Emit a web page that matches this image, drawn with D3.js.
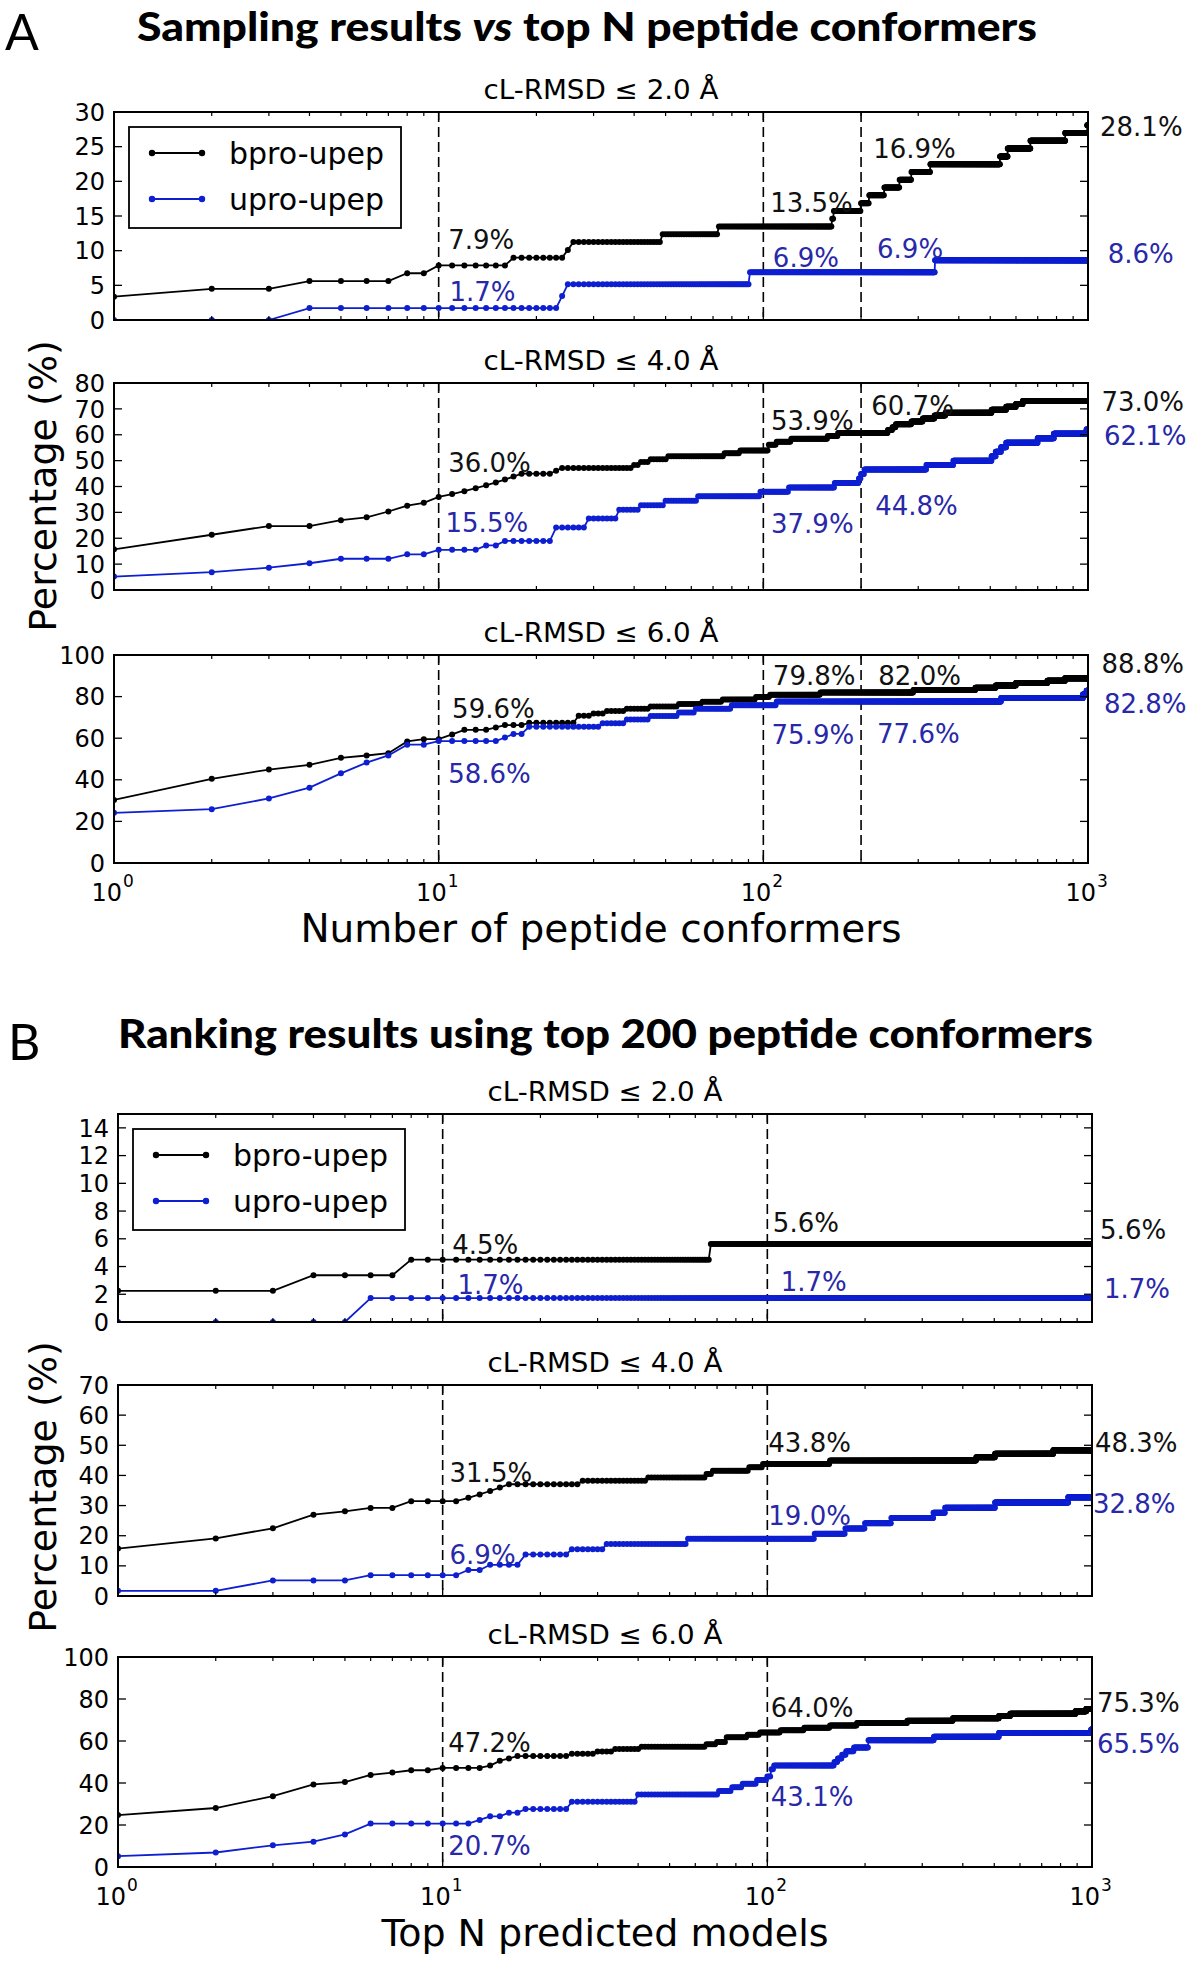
<!DOCTYPE html>
<html><head><meta charset="utf-8">
<script src="https://cdn.jsdelivr.net/npm/d3@7"></script>
<style>body{margin:0;background:#fff}svg{display:block}</style>
</head><body>
<svg id="c" width="1200" height="1962"></svg>
<script>
// ---------------- DATA ----------------
const N_BPRO = 89, N_UPRO = 58;           // number of complexes per set
const seriesNames = ["bpro-upep", "upro-upep"];
const xTickValues = [1, 10, 100, 1000];
const xTickBase = "10";
const xTickExp = ["0", "1", "2", "3"];
const subTitles = ["cL-RMSD ≤ 2.0 Å", "cL-RMSD ≤ 4.0 Å", "cL-RMSD ≤ 6.0 Å"];
const titleA = ["Sampling results ", "vs", " top N peptide conformers"];
const titleB = ["Ranking results using top 200 peptide conformers"];
const xLabelA = "Number of peptide conformers";
const xLabelB = "Top N predicted models";
const yLabel = "Percentage (%)";
const dashesA = [10, 100, 200];
const dashesB = [10, 100];
const yMaxA = [30, 80, 100], yStepA = [5, 10, 20];
const yMaxB = [15, 70, 100], yStepB = [2, 10, 20];

// step data: [N from which the count holds, number of successful complexes]
const A1_bpro = [[1,3],[2,4],[4,5],[8,6],[10,7],[17,8],[25,9],[26,10],[49,11],[73,12],[163,13],[165,14],[200,15],[212,16],[236,17],[263,18],[286,19],[327,20],[536,21],[566,22],[665,23],[851,24],[995,25]];
const A1_upro = [[1,0],[4,1],[24,2],[25,3],[91,4],[338,5]];
const A2_bpro = [[1,14],[2,19],[3,22],[5,24],[6,25],[7,27],[8,29],[9,30],[10,32],[11,33],[12,34],[13,35],[14,36],[15,37],[16,38],[17,39],[18,40],[23,41],[24,42],[40,43],[42,44],[45,45],[51,46],[76,47],[85,48],[104,50],[110,51],[122,52],[158,53],[170,54],[242,55],[250,56],[256,57],[286,58],[310,59],[337,60],[364,61],[505,62],[560,63],[600,64],[630,65]];
const A2_upro = [[1,3],[2,4],[3,5],[4,6],[5,7],[8,8],[10,9],[14,10],[16,11],[23,14],[29,16],[36,18],[42,19],[50,20],[63,21],[98,22],[120,23],[166,24],[197,25],[200,26],[205,27],[318,28],[385,29],[505,30],[520,31],[540,32],[560,33],[700,34],[785,35],[990,36]];
const A3_bpro = [[1,27],[2,36],[3,40],[4,42],[5,45],[6,46],[7,47],[8,52],[9,53],[11,55],[12,57],[15,58],[16,59],[19,60],[27,63],[30,64],[33,65],[38,66],[45,67],[55,68],[65,69],[75,70],[95,71],[105,72],[150,73],[290,74],[450,75],[520,76],[600,77],[750,78],[850,79]];
const A3_upro = [[1,14],[2,15],[3,18],[4,21],[5,25],[6,28],[7,30],[8,33],[10,34],[16,35],[17,36],[19,38],[32,39],[38,40],[45,41],[55,42],[62,43],[80,44],[110,45],[540,46],[965,47],[990,48]];
const B1_bpro = [[1,2],[4,3],[8,4],[67,5]];
const B1_upro = [[1,0],[6,1]];
const B2_bpro = [[1,14],[2,17],[3,20],[4,24],[5,25],[6,26],[8,28],[12,29],[13,30],[14,31],[15,32],[16,33],[27,34],[43,35],[65,36],[68,37],[88,38],[97,39],[156,40],[440,41],[503,42],[760,43]];
const B2_upro = [[1,1],[3,3],[6,4],[12,5],[14,6],[18,8],[25,9],[32,10],[57,11],[140,12],[174,13],[200,14],[241,15],[325,16],[353,17],[503,18],[845,19]];
const B3_bpro = [[1,22],[2,25],[3,30],[4,35],[5,36],[6,39],[7,40],[8,41],[10,42],[14,43],[15,45],[16,46],[17,47],[25,48],[30,49],[34,50],[41,51],[65,52],[70,53],[75,55],[87,56],[95,57],[110,58],[130,59],[156,60],[189,61],[270,62],[373,63],[517,64],[560,65],[890,66],[960,67]];
const B3_upro = [[1,3],[2,4],[3,6],[4,7],[5,9],[6,12],[13,13],[14,14],[16,15],[18,16],[25,18],[40,20],[71,21],[78,22],[84,23],[93,24],[100,25],[103,27],[105,28],[161,29],[165,30],[170,31],[175,32],[185,33],[205,35],[326,36],[517,37],[995,38]];

// annotations: [text, N (x, data units), value (baseline, data units), series index]
const A1_labels = [["7.9%",10.7,10.3,0],["1.7%",10.8,2.7,1],["13.5%",105,15.6,0],["6.9%",107,7.7,1],["16.9%",218,23.3,0],["6.9%",224,8.9,1],["28.1%",1089,26.6,0],["8.6%",1150,8.2,1]];
const A2_labels = [["36.0%",10.7,45.7,0],["15.5%",10.5,22.5,1],["53.9%",105.6,62.0,0],["37.9%",105.6,22.1,1],["60.7%",215,67.6,0],["44.8%",221,28.9,1],["73.0%",1100,69.1,0],["62.1%",1120,56.2,1]];
const A3_labels = [["59.6%",11.0,69.8,0],["58.6%",10.7,38.6,1],["79.8%",107,85.5,0],["75.9%",106,57.0,1],["82.0%",226,85.5,0],["77.6%",224,57.5,1],["88.8%",1100,91.4,0],["82.8%",1120,71.9,1]];
const B1_labels = [["4.5%",10.7,4.87,0],["1.7%",11.1,2.05,1],["5.6%",104,6.5,0],["1.7%",110,2.22,1],["5.6%",1059,5.95,0],["1.7%",1089,1.74,1]];
const B2_labels = [["31.5%",10.5,37.9,0],["6.9%",10.5,10.7,1],["43.8%",100.7,47.9,0],["19.0%",100.7,23.5,1],["48.3%",1021,47.9,0],["32.8%",1007,27.6,1]];
const B3_labels = [["47.2%",10.4,54.9,0],["20.7%",10.4,5.6,1],["64.0%",102.5,71.5,0],["43.1%",102.5,29.0,1],["75.3%",1036,73.9,0],["65.5%",1036,54.4,1]];

// ---------------- DRAWING ----------------
const svg = d3.select("#c");
const FONT = "'DejaVu Sans', sans-serif";
const LINE_COL = ["#000000", "#0d1fd0"];
const TEXT_COL = ["#111111", "#2828a8"];

function expand(steps, total) {
  const pts = [];
  let i = 0;
  for (let n = 1; n <= 1000; n++) {
    while (i + 1 < steps.length && steps[i + 1][0] <= n) i++;
    pts.push([n, steps[i][1] / total * 100]);
  }
  return pts;
}

let clipCount = 0;
function drawPanel(p) {
  const x = d3.scaleLog().domain([1, 1000]).range([p.left, p.right]);
  const y = d3.scaleLinear().domain([0, p.yMax]).range([p.bottom, p.top]);
  const g = svg.append("g");
  const cid = "clip" + (clipCount++);
  svg.append("clipPath").attr("id", cid).append("rect")
    .attr("x", p.left).attr("y", p.top).attr("width", p.right - p.left).attr("height", p.bottom - p.top);

  // subtitle
  g.append("text").attr("x", (p.left + p.right) / 2).attr("y", p.top - 13)
    .attr("text-anchor", "middle").attr("font-family", FONT).attr("font-size", 26)
    .attr("textLength", 235).attr("lengthAdjust", "spacingAndGlyphs")
    .text(p.sub);

  // dashed verticals
  g.selectAll(".dash").data(p.dashes).enter().append("line")
    .attr("x1", d => x(d)).attr("x2", d => x(d)).attr("y1", p.top).attr("y2", p.bottom)
    .attr("stroke", "#000").attr("stroke-width", 1.6).attr("stroke-dasharray", "10,5");

  // series
  const line = d3.line().x(d => x(d[0])).y(d => y(d[1]));
  const sg = g.append("g").attr("clip-path", `url(#${cid})`);
  [[p.bpro, N_BPRO], [p.upro, N_UPRO]].forEach(([steps, tot], si) => {
    const pts = expand(steps, tot);
    sg.append("path").attr("d", line(pts)).attr("fill", "none")
      .attr("stroke", LINE_COL[si]).attr("stroke-width", 1.8);
    sg.append("g").selectAll("circle").data(pts).enter().append("circle")
      .attr("cx", d => x(d[0])).attr("cy", d => y(d[1])).attr("r", 3)
      .attr("fill", LINE_COL[si]);
  });

  // frame
  g.append("rect").attr("x", p.left).attr("y", p.top)
    .attr("width", p.right - p.left).attr("height", p.bottom - p.top)
    .attr("fill", "none").attr("stroke", "#000").attr("stroke-width", 2);

  // y ticks
  const yt = d3.range(0, p.yMax + 0.001, p.yStep);
  yt.forEach(v => {
    g.append("line").attr("x1", p.left).attr("x2", p.left + 8).attr("y1", y(v)).attr("y2", y(v)).attr("stroke", "#000").attr("stroke-width", 1.3);
    g.append("line").attr("x1", p.right - 8).attr("x2", p.right).attr("y1", y(v)).attr("y2", y(v)).attr("stroke", "#000").attr("stroke-width", 1.3);
    g.append("text").attr("x", p.left - 9).attr("y", y(v)).attr("dy", "0.36em")
      .attr("text-anchor", "end").attr("font-family", FONT).attr("font-size", 24).text(v);
  });

  // x ticks (major + minor), top and bottom, inward
  const minor = [];
  [1, 10, 100].forEach(dec => { for (let k = 2; k <= 9; k++) minor.push(dec * k); });
  minor.forEach(v => {
    g.append("line").attr("x1", x(v)).attr("x2", x(v)).attr("y1", p.bottom).attr("y2", p.bottom - 4).attr("stroke", "#000").attr("stroke-width", 1.2);
    g.append("line").attr("x1", x(v)).attr("x2", x(v)).attr("y1", p.top).attr("y2", p.top + 4).attr("stroke", "#000").attr("stroke-width", 1.2);
  });
  [10, 100].forEach(v => {
    g.append("line").attr("x1", x(v)).attr("x2", x(v)).attr("y1", p.bottom).attr("y2", p.bottom - 8).attr("stroke", "#000").attr("stroke-width", 1.3);
    g.append("line").attr("x1", x(v)).attr("x2", x(v)).attr("y1", p.top).attr("y2", p.top + 8).attr("stroke", "#000").attr("stroke-width", 1.3);
  });

  if (p.showX) {
    xTickValues.forEach((v, i) => {
      g.append("text").attr("x", x(v) + 8).attr("y", p.bottom + 38).attr("text-anchor", "end")
        .attr("font-family", FONT).attr("font-size", 24).text(xTickBase);
      g.append("text").attr("x", x(v) + 9).attr("y", p.bottom + 24).attr("text-anchor", "start")
        .attr("font-family", FONT).attr("font-size", 17).text(xTickExp[i]);
    });
  }

  // annotations
  p.labels.forEach(([t, n, v, si]) => {
    g.append("text").attr("x", x(n)).attr("y", y(v)).attr("font-family", FONT)
      .attr("font-size", 26).attr("fill", TEXT_COL[si]).text(t);
  });

  // legend
  if (p.legend) {
    const lx = p.left + 15, ly = p.top + 15;
    g.append("rect").attr("x", lx).attr("y", ly).attr("width", 272).attr("height", 101)
      .attr("fill", "#fff").attr("stroke", "#000").attr("stroke-width", 1.8);
    seriesNames.forEach((s, si) => {
      const yy = ly + 26 + si * 46;
      g.append("line").attr("x1", lx + 23).attr("x2", lx + 73).attr("y1", yy).attr("y2", yy)
        .attr("stroke", LINE_COL[si]).attr("stroke-width", 1.8);
      [lx + 23, lx + 73].forEach(cx => g.append("circle").attr("cx", cx).attr("cy", yy).attr("r", 3.2).attr("fill", LINE_COL[si]));
      g.append("text").attr("x", lx + 100).attr("y", yy).attr("dy", "0.35em")
        .attr("font-family", FONT).attr("font-size", 30).text(s);
    });
  }
}

// group A
const topsA = [112, 383, 655], botsA = [320, 590, 863];
const dataA = [[A1_bpro, A1_upro, A1_labels], [A2_bpro, A2_upro, A2_labels], [A3_bpro, A3_upro, A3_labels]];
dataA.forEach((d, i) => drawPanel({
  left: 114, right: 1088, top: topsA[i], bottom: botsA[i], yMax: yMaxA[i], yStep: yStepA[i],
  bpro: d[0], upro: d[1], labels: d[2], dashes: dashesA, sub: subTitles[i], showX: i === 2, legend: i === 0
}));
// group B
const topsB = [1114, 1385, 1657], botsB = [1322, 1596, 1867];
const dataB = [[B1_bpro, B1_upro, B1_labels], [B2_bpro, B2_upro, B2_labels], [B3_bpro, B3_upro, B3_labels]];
dataB.forEach((d, i) => drawPanel({
  left: 118, right: 1092, top: topsB[i], bottom: botsB[i], yMax: yMaxB[i], yStep: yStepB[i],
  bpro: d[0], upro: d[1], labels: d[2], dashes: dashesB, sub: subTitles[i], showX: i === 2, legend: i === 0
}));

// figure titles
const TFONT = "Lato, 'Open Sans', sans-serif";
const tA = svg.append("text").attr("x", 137).attr("y", 41).attr("font-family", TFONT)
  .attr("font-weight", "900").attr("font-size", 40).attr("textLength", 900).attr("lengthAdjust", "spacingAndGlyphs");
titleA.forEach((s, i) => tA.append("tspan").attr("font-style", i === 1 ? "italic" : "normal").text(s));
svg.append("text").attr("x", 118).attr("y", 1048).attr("font-family", TFONT)
  .attr("font-weight", "900").attr("font-size", 40).attr("textLength", 975).attr("lengthAdjust", "spacingAndGlyphs")
  .text(titleB[0]);
svg.append("text").attr("x", 5).attr("y", 50).attr("font-family", TFONT).attr("font-size", 50).text("A");
svg.append("text").attr("x", 8).attr("y", 1060).attr("font-family", TFONT).attr("font-size", 50).text("B");

// axis labels
svg.append("text").attr("x", 601).attr("y", 942).attr("text-anchor", "middle")
  .attr("font-family", FONT).attr("font-size", 39).text(xLabelA);
svg.append("text").attr("x", 605).attr("y", 1946).attr("text-anchor", "middle")
  .attr("font-family", FONT).attr("font-size", 38).text(xLabelB);
[486, 1487].forEach(cy => {
  svg.append("text").attr("transform", `translate(56,${cy}) rotate(-90)`).attr("text-anchor", "middle")
    .attr("font-family", FONT).attr("font-size", 38).text(yLabel);
});
</script>
</body></html>
